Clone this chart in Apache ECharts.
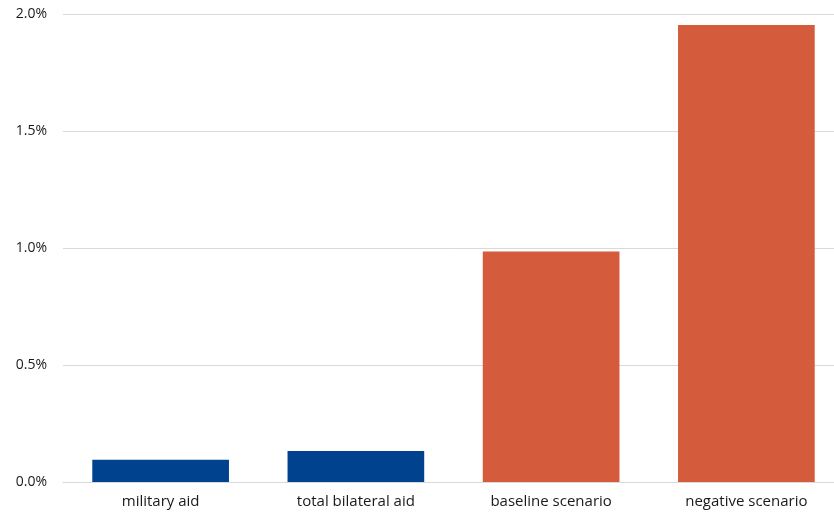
<!DOCTYPE html>
<html>
<head>
<meta charset="utf-8">
<script src="https://cdn.jsdelivr.net/npm/echarts@6/dist/echarts.min.js"></script>
<style>
  html, body { margin: 0; padding: 0; background: #fff; overflow: hidden; }
  #chart { width: 844px; height: 514px; }
</style>
</head>
<body>
<div id="chart"></div>
<script>
var categories = ['military aid', 'total bilateral aid', 'baseline scenario', 'negative scenario'];
var values = [0.095, 0.133, 0.985, 1.953];
var barColors = ['#00428E', '#00428E', '#D45B3B', '#D45B3B'];

var myChart = echarts.init(document.getElementById('chart'));
var option = {
    animation: false,
    grid: {
        left: 63,
        right: 0,
        top: 14,
        bottom: 32
    },
    xAxis: {
        type: 'category',
        data: categories,
        axisTick: { show: false },
        axisLine: { lineStyle: { color: '#d9d9d9', width: 1 } },
        axisLabel: {
            color: '#1a1a1a',
            fontFamily: 'Open Sans',
            fontSize: 15,
            margin: 12
        }
    },
    yAxis: {
        type: 'value',
        min: 0,
        max: 2,
        interval: 0.5,
        axisLine: { show: false },
        axisTick: { show: false },
        splitLine: { lineStyle: { color: '#d9d9d9', width: 1 } },
        axisLabel: {
            color: '#1a1a1a',
            fontFamily: 'Open Sans',
            fontSize: 14,
            margin: 16,
            formatter: function (v) { return v.toFixed(1) + '%'; }
        }
    },
    series: [{
        type: 'bar',
        barWidth: '70%',
        data: values.map(function (v, i) {
            return { value: v, itemStyle: { color: barColors[i] } };
        })
    }]
};
myChart.setOption(option);
window.addEventListener('resize', function () {
    myChart.resize();
});
</script>
</body>
</html>
